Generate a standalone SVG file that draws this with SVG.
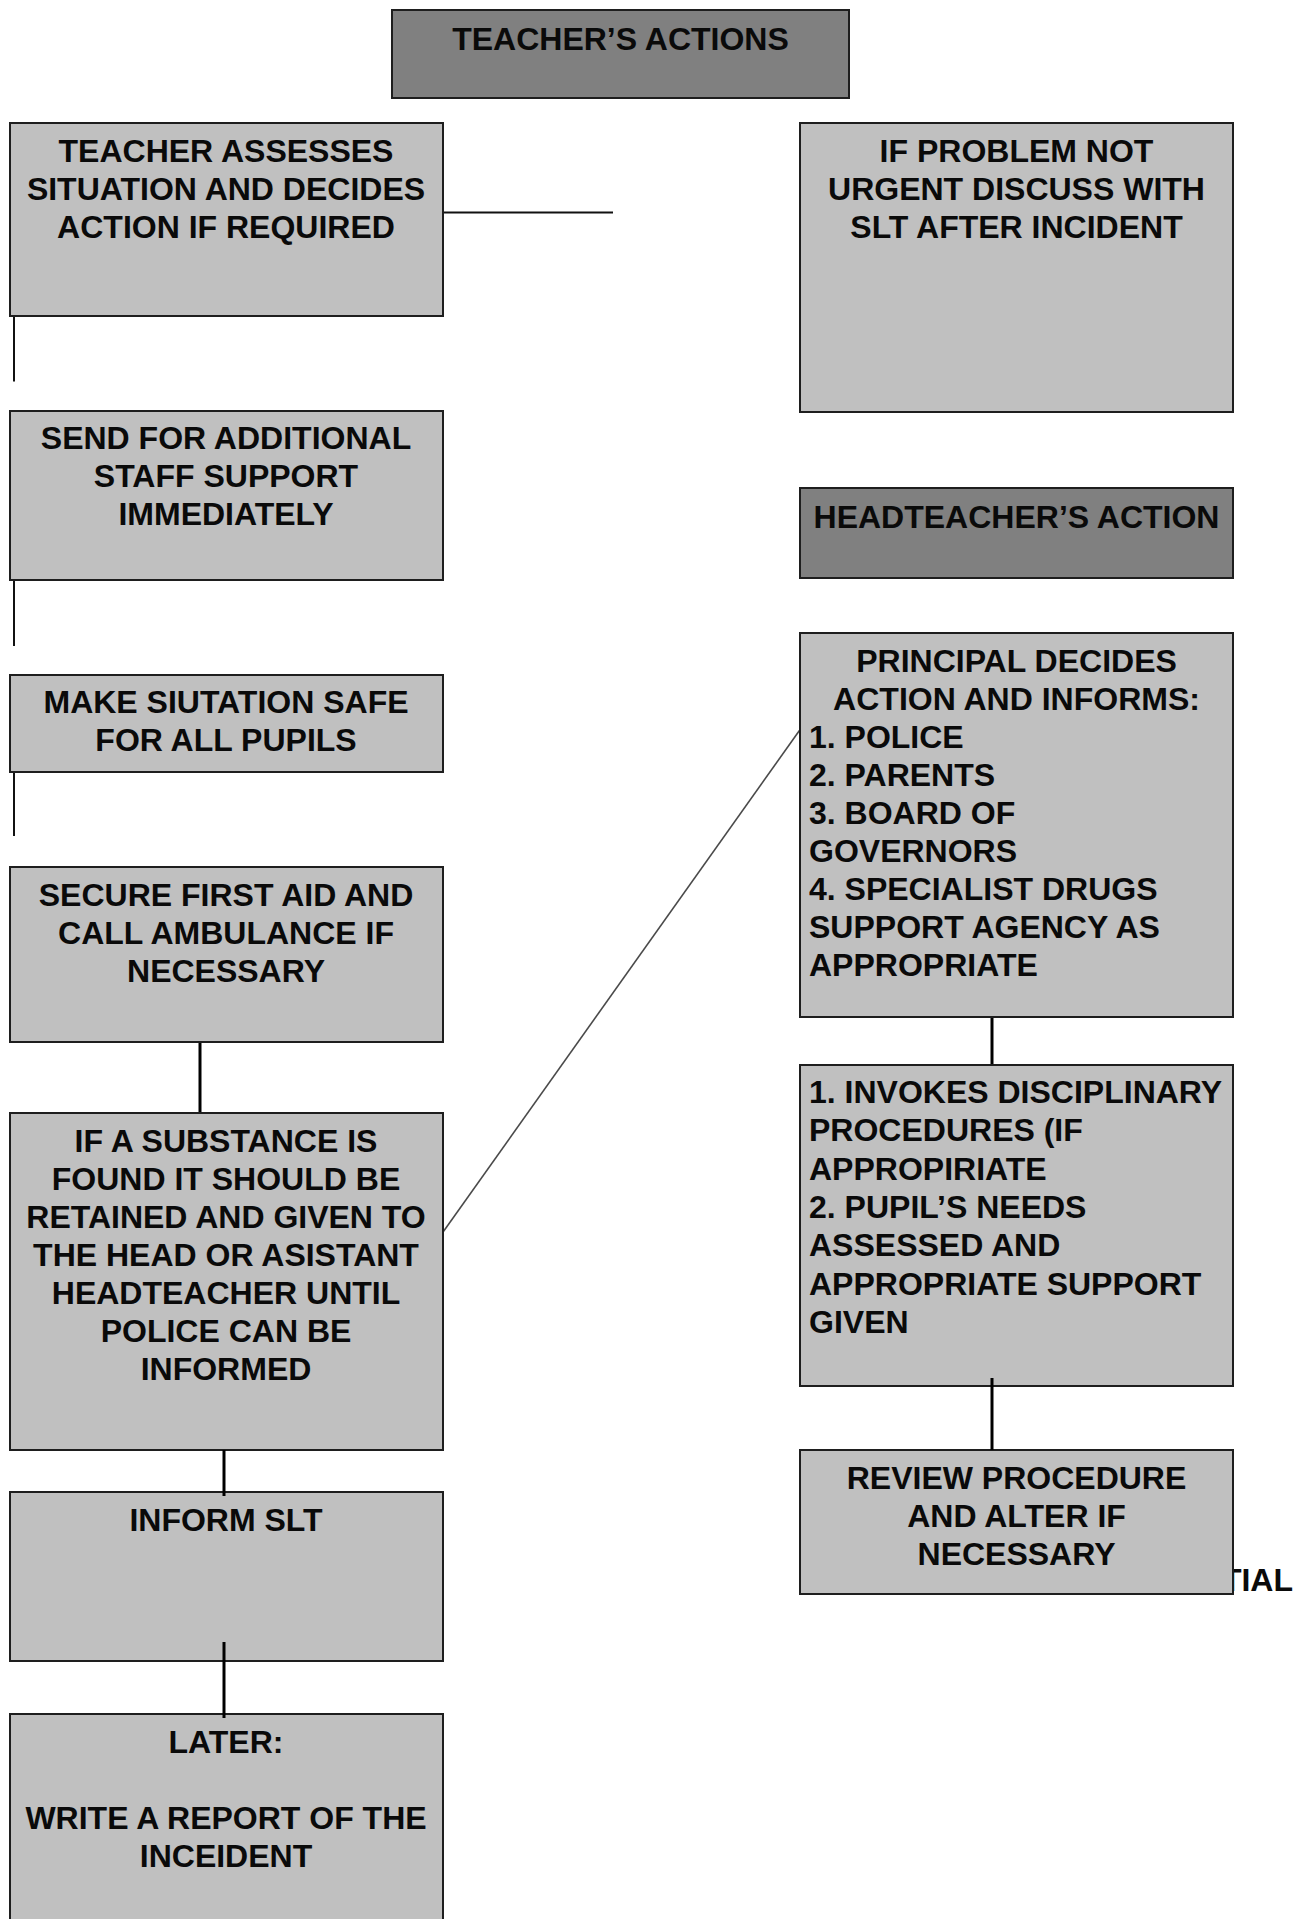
<svg xmlns="http://www.w3.org/2000/svg" width="1305" height="1919" viewBox="0 0 1305 1919">
<style>
  .box { fill: #c0c0c0; stroke: #1e1e1e; stroke-width: 2; }
  .head { fill: #808080; stroke: #1e1e1e; stroke-width: 2; }
  text { font-family: "Liberation Sans", Arial, sans-serif; font-weight: bold; font-size: 32px; fill: #0a0a0a; }
  .c { text-anchor: middle; }
  .thin { stroke: #111; stroke-width: 2; fill: none; }
  .thick { stroke: #000; stroke-width: 3; fill: none; }
  .diag { stroke: #4a4a4a; stroke-width: 1.6; fill: none; }
</style>
<rect width="1305" height="1919" fill="#ffffff"/>

<text id="partial-text" x="1293" y="1591" text-anchor="end">TIAL</text>

<g id="connectors">
  <line class="thin" x1="443" y1="212.5" x2="613" y2="212.5"/>
  <line class="thin" x1="14" y1="316" x2="14" y2="381.5"/>
  <line class="thin" x1="14" y1="580" x2="14" y2="646"/>
  <line class="thin" x1="14" y1="772" x2="14" y2="836"/>
  <line class="thick" x1="200" y1="1042" x2="200" y2="1113"/>
  <line class="diag" x1="442" y1="1233.5" x2="800.5" y2="729"/>
  <line class="thick" x1="992" y1="1017" x2="992" y2="1065"/>
</g>

<g id="teachers-actions">
  <rect class="head" x="392" y="10" width="457" height="88"/>
  <text class="c" x="620.5" y="50">TEACHER’S ACTIONS</text>
</g>

<g id="assess">
  <rect class="box" x="10" y="123" width="433" height="193"/>
  <text class="c" x="226" y="162">TEACHER ASSESSES</text>
  <text class="c" x="226" y="200">SITUATION AND DECIDES</text>
  <text class="c" x="226" y="238">ACTION IF REQUIRED</text>
</g>

<g id="not-urgent">
  <rect class="box" x="800" y="123" width="433" height="289"/>
  <text class="c" x="1016.5" y="162">IF PROBLEM NOT</text>
  <text class="c" x="1016.5" y="200">URGENT DISCUSS WITH</text>
  <text class="c" x="1016.5" y="238">SLT AFTER INCIDENT</text>
</g>

<g id="send-support">
  <rect class="box" x="10" y="411" width="433" height="169"/>
  <text class="c" x="226" y="449">SEND FOR ADDITIONAL</text>
  <text class="c" x="226" y="487">STAFF SUPPORT</text>
  <text class="c" x="226" y="525">IMMEDIATELY</text>
</g>

<g id="make-safe">
  <rect class="box" x="10" y="675" width="433" height="97"/>
  <text class="c" x="226" y="713">MAKE SIUTATION SAFE</text>
  <text class="c" x="226" y="751">FOR ALL PUPILS</text>
</g>

<g id="first-aid">
  <rect class="box" x="10" y="867" width="433" height="175"/>
  <text class="c" x="226" y="906">SECURE FIRST AID AND</text>
  <text class="c" x="226" y="944">CALL AMBULANCE IF</text>
  <text class="c" x="226" y="982">NECESSARY</text>
</g>

<g id="substance">
  <rect class="box" x="10" y="1113" width="433" height="337"/>
  <text class="c" x="226" y="1152">IF A SUBSTANCE IS</text>
  <text class="c" x="226" y="1190">FOUND IT SHOULD BE</text>
  <text class="c" x="226" y="1228">RETAINED AND GIVEN TO</text>
  <text class="c" x="226" y="1266">THE HEAD OR ASISTANT</text>
  <text class="c" x="226" y="1304">HEADTEACHER UNTIL</text>
  <text class="c" x="226" y="1342">POLICE CAN BE</text>
  <text class="c" x="226" y="1380">INFORMED</text>
</g>

<g id="inform-slt">
  <rect class="box" x="10" y="1492" width="433" height="169"/>
  <text class="c" x="226" y="1531">INFORM SLT</text>
</g>

<g id="later">
  <rect class="box" x="10" y="1714" width="433" height="230"/>
  <text class="c" x="226" y="1753">LATER:</text>
  <text class="c" x="226" y="1829">WRITE A REPORT OF THE</text>
  <text class="c" x="226" y="1867">INCEIDENT</text>
</g>

<g id="headteachers-action">
  <rect class="head" x="800" y="488" width="433" height="90"/>
  <text class="c" x="1016.5" y="527.5">HEADTEACHER’S ACTION</text>
</g>

<g id="principal">
  <rect class="box" x="800" y="633" width="433" height="384"/>
  <text class="c" x="1016.5" y="671.5">PRINCIPAL DECIDES</text>
  <text class="c" x="1016.5" y="709.5">ACTION AND INFORMS:</text>
  <text x="809" y="747.5">1. POLICE</text>
  <text x="809" y="785.5">2. PARENTS</text>
  <text x="809" y="823.8">3. BOARD OF</text>
  <text x="809" y="862">GOVERNORS</text>
  <text x="809" y="900">4. SPECIALIST DRUGS</text>
  <text x="809" y="938">SUPPORT AGENCY AS</text>
  <text x="809" y="976.2">APPROPRIATE</text>
</g>

<g id="invokes">
  <rect class="box" x="800" y="1065" width="433" height="321"/>
  <text x="809" y="1103">1. INVOKES DISCIPLINARY</text>
  <text x="809" y="1141.3">PROCEDURES (IF</text>
  <text x="809" y="1179.6">APPROPIRIATE</text>
  <text x="809" y="1217.9">2. PUPIL’S NEEDS</text>
  <text x="809" y="1256.2">ASSESSED AND</text>
  <text x="809" y="1294.5">APPROPRIATE SUPPORT</text>
  <text x="809" y="1332.8">GIVEN</text>
</g>

<g id="review">
  <rect class="box" x="800" y="1450" width="433" height="144"/>
  <text class="c" x="1016.5" y="1489">REVIEW PROCEDURE</text>
  <text class="c" x="1016.5" y="1527">AND ALTER IF</text>
  <text class="c" x="1016.5" y="1565">NECESSARY</text>
</g>

<g id="connectors-over">
  <line class="thick" x1="224" y1="1450" x2="224" y2="1496"/>
  <line class="thick" x1="224" y1="1642" x2="224" y2="1718"/>
  <line class="thick" x1="992" y1="1378" x2="992" y2="1450"/>
</g>
</svg>
